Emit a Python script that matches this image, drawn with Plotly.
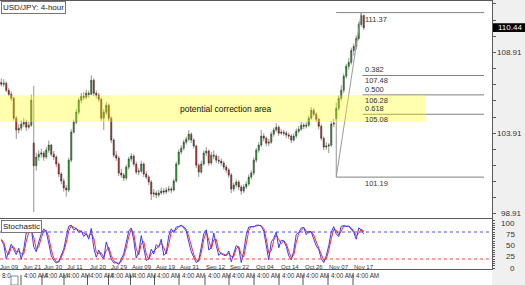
import plotly.graph_objects as go

# ---------------- data ----------------
opens = [
107.05, 106.93, 107.00, 106.56, 106.32, 106.07, 104.84, 104.10, 104.22, 104.47,
104.59, 104.28, 104.40, 103.30, 101.90, 102.43, 102.61, 102.68, 102.43, 102.86,
103.17, 102.61, 102.43, 102.00, 101.38, 100.95, 100.52, 100.39, 102.24, 103.97,
104.59, 105.21, 105.95, 106.19, 106.13, 106.38, 106.32, 107.18, 106.38, 106.26,
106.01, 104.84, 105.21, 105.64, 104.84, 103.48, 102.55, 102.37, 101.44, 101.32,
101.13, 101.81, 102.31, 102.49, 102.00, 101.50, 101.56, 102.00, 101.38, 101.19,
100.89, 100.14, 100.21, 100.08, 100.21, 100.33, 100.27, 100.39, 100.45, 100.39,
100.95, 102.00, 102.74, 102.98, 103.35, 103.54, 103.85, 103.48, 103.11, 101.93,
101.50, 102.00, 102.68, 102.80, 102.06, 102.55, 102.49, 102.24, 102.18, 102.06,
101.81, 101.63, 101.32, 100.45, 100.70, 100.89, 100.58, 100.33, 100.58, 100.76,
101.19, 101.44, 102.24, 102.86, 103.17, 103.73, 103.60, 103.29, 103.35, 103.85,
104.10, 104.28, 103.91, 103.97, 103.91, 103.79, 103.73, 103.48, 103.73, 104.03,
104.16, 104.40, 104.34, 104.40, 104.84, 105.33, 105.08, 104.77, 104.34, 103.60,
103.05, 103.11, 103.17, 104.47, 104.80, 105.45, 106.07, 106.56, 107.43, 108.05,
108.29, 109.03, 109.28, 109.77, 110.64, 111.19]

highs = [
107.30, 107.25, 107.12, 106.70, 106.50, 106.15, 104.98, 104.45, 104.70, 104.85,
104.75, 104.62, 106.30, 106.84, 102.70, 102.85, 102.95, 102.80, 103.05, 103.45,
103.25, 102.80, 102.55, 102.10, 101.50, 101.10, 100.70, 102.40, 104.15, 104.75,
105.40, 106.10, 106.40, 106.45, 106.60, 106.55, 107.49, 107.30, 106.55, 106.40,
106.10, 105.40, 105.85, 105.75, 104.95, 103.60, 102.80, 102.50, 101.70, 101.45,
101.95, 102.45, 102.68, 102.60, 102.15, 101.75, 102.20, 102.10, 101.55, 101.30,
101.00, 100.45, 100.35, 100.40, 100.55, 100.50, 100.55, 100.65, 100.60, 101.10,
102.15, 102.90, 103.15, 103.50, 103.70, 104.10, 103.95, 103.60, 103.20, 102.05,
102.20, 102.85, 103.05, 102.90, 102.75, 102.85, 102.60, 102.50, 102.35, 102.20,
101.95, 101.75, 101.45, 100.85, 101.05, 101.00, 100.70, 100.75, 100.95, 101.35,
101.60, 102.40, 103.00, 103.35, 104.10, 103.90, 103.70, 103.55, 104.00, 104.25,
104.53, 104.40, 104.15, 104.10, 104.05, 103.95, 103.85, 103.90, 104.20, 104.35,
104.60, 104.55, 104.60, 105.00, 105.53, 105.45, 105.20, 104.85, 104.45, 103.70,
103.35, 103.30, 104.65, 104.80, 105.80, 106.25, 106.87, 107.60, 108.20, 108.55,
109.20, 109.45, 109.95, 110.80, 111.37, 111.25]

lows = [
106.80, 106.78, 106.45, 106.20, 105.90, 104.70, 103.55, 103.90, 104.05, 104.30,
104.05, 104.15, 104.30, 99.02, 101.60, 102.20, 102.40, 102.20, 102.30, 102.70,
102.45, 102.25, 101.80, 101.20, 100.75, 100.30, 99.98, 100.25, 102.10, 103.90,
104.45, 105.05, 105.75, 105.95, 106.00, 106.10, 106.25, 106.20, 106.05, 105.85,
104.65, 104.10, 105.05, 104.65, 103.30, 102.40, 102.20, 101.25, 101.15, 100.95,
101.00, 101.65, 102.15, 101.85, 101.35, 101.30, 101.45, 101.20, 101.05, 100.70,
99.77, 99.95, 99.90, 99.95, 100.10, 100.10, 100.15, 100.25, 100.20, 100.30,
100.85, 101.90, 102.60, 102.85, 103.20, 103.40, 103.30, 102.95, 101.75, 101.20,
101.40, 101.90, 102.50, 101.90, 101.95, 102.30, 102.05, 102.00, 101.90, 101.65,
101.45, 101.15, 100.20, 100.30, 100.55, 100.40, 100.10, 100.20, 100.45, 100.65,
101.05, 101.30, 102.10, 102.70, 103.05, 103.40, 103.10, 103.10, 103.25, 103.70,
104.00, 103.75, 103.80, 103.75, 103.60, 103.55, 103.29, 103.40, 103.60, 103.90,
104.05, 104.15, 104.20, 104.30, 104.75, 104.95, 104.60, 104.15, 103.45, 102.85,
102.90, 102.68, 103.05, 104.30, 101.19, 105.30, 105.90, 106.40, 107.30, 107.85,
108.15, 108.70, 109.10, 109.65, 110.50, 110.30]

closes = [
106.93, 107.00, 106.56, 106.32, 106.07, 104.84, 104.10, 104.22, 104.47, 104.59,
104.28, 104.40, 105.95, 101.90, 102.43, 102.61, 102.68, 102.43, 102.86, 103.17,
102.61, 102.43, 102.00, 101.38, 100.95, 100.52, 100.39, 102.24, 103.97, 104.59,
105.21, 105.95, 106.19, 106.13, 106.38, 106.32, 107.18, 106.38, 106.26, 106.01,
104.84, 105.21, 105.64, 104.84, 103.48, 102.55, 102.37, 101.44, 101.32, 101.13,
101.81, 102.31, 102.49, 102.00, 101.50, 101.56, 102.00, 101.38, 101.19, 100.89,
100.14, 100.21, 100.08, 100.21, 100.33, 100.27, 100.39, 100.45, 100.39, 100.95,
102.00, 102.74, 102.98, 103.35, 103.54, 103.85, 103.48, 103.11, 101.93, 101.50,
102.00, 102.68, 102.80, 102.06, 102.55, 102.49, 102.24, 102.18, 102.06, 101.81,
101.63, 101.32, 100.45, 100.70, 100.89, 100.58, 100.33, 100.58, 100.76, 101.19,
101.44, 102.24, 102.86, 103.17, 103.73, 103.60, 103.29, 103.35, 103.85, 104.10,
104.28, 103.91, 103.97, 103.91, 103.79, 103.73, 103.48, 103.73, 104.03, 104.16,
104.40, 104.34, 104.40, 104.84, 105.33, 105.08, 104.77, 104.34, 103.60, 103.05,
103.11, 103.17, 104.47, 104.53, 105.45, 106.07, 106.56, 107.43, 108.05, 108.29,
109.03, 109.28, 109.77, 110.64, 111.19, 110.44]

stoch_k = [
62, 52, 20, 38, 53, 41, 30, 44, 19, 42,
78, 79, 88, 47, 36, 58, 76, 87, 80, 55,
27, 17, 11, 15, 31, 42, 70, 93, 95, 85,
88, 79, 83, 70, 77, 64, 88, 45, 24, 40,
27, 20, 58, 36, 20, 11, 12, 8, 20, 32,
57, 82, 89, 62, 22, 35, 72, 45, 17, 20,
42, 31, 52, 46, 64, 28, 34, 72, 87, 79,
91, 92, 95, 89, 82, 58, 36, 24, 12, 17,
50, 76, 85, 40, 45, 78, 50, 28, 34, 28,
28, 38, 14, 35, 50, 45, 12, 37, 74, 91,
92, 91, 95, 95, 93, 82, 48, 18, 58, 66,
80, 45, 62, 60, 48, 27, 18, 38, 75, 79,
89, 90, 74, 82, 80, 66, 49, 41, 21, 12,
27, 50, 80, 92, 75, 70, 93, 94, 92, 93,
85, 79, 64, 89, 84, 76]

stoch_d = [
64, 57, 36, 29, 46, 47, 36, 37, 32, 31,
60, 79, 84, 68, 42, 47, 67, 82, 84, 68,
41, 22, 14, 13, 23, 37, 56, 82, 94, 90,
87, 84, 81, 77, 74, 71, 76, 67, 35, 32,
34, 24, 39, 47, 28, 16, 12, 10, 14, 26,
45, 70, 86, 76, 42, 29, 54, 59, 31, 19,
31, 37, 42, 49, 55, 46, 31, 53, 80, 83,
85, 92, 94, 92, 86, 70, 47, 30, 18, 15,
34, 63, 81, 63, 43, 62, 64, 39, 31, 31,
28, 33, 26, 25, 43, 48, 29, 25, 56, 83,
92, 92, 93, 95, 94, 88, 65, 33, 38, 62,
73, 63, 54, 61, 54, 38, 23, 28, 57, 77,
84, 90, 82, 78, 81, 73, 58, 45, 31, 17,
20, 39, 65, 86, 84, 73, 82, 94, 93, 93,
89, 82, 72, 77, 87, 80]

date_labels = ["Jun 09", "Jun 21", "Jun 30", "Jul 11", "Jul 20", "Jul 29", "Aug 09", "Aug 19",
               "Aug 31", "Sep 12", "Sep 22", "Oct 04", "Oct 14", "Oct 26", "Nov 07", "Nov 17"]
date_bars = [3.1, 12.3, 20.7, 29.5, 38.9, 47.3, 56.1, 65.7, 75.5, 85.9, 95.5, 105.5, 115.5,
             125.1, 135.1, 145.1]
time_label = "4:00 AM"

price_ticks = [108.91, 103.91, 98.91]
stoch_ticks = [100, 75, 50, 25, 0]
last_price = closes[-1]

fib_high = 111.37
fib_low = 101.19
fib_ratios = [0.382, 0.5, 0.618]
zone_low, zone_high = 104.60, 106.25
zone_text = "potential correction area"
stoch_over, stoch_under = 80, 20

# ---------------- geometry ----------------
W, H = 525, 285
PXB = 2.5          # pixels per bar


def bx(px):        # pixel x -> bar coordinate
    return (px - 1.25) / PXB


def py(px):        # pixel y (from top) -> paper y
    return (H - px) / H


bars = list(range(len(closes)))
XR = [-0.5, bx(492)]
XDOM = [0, 492 / W]
FONT = "Liberation Sans, Arial, sans-serif"
AX = "#5a5a5a"

fig = go.Figure()
fig.add_trace(go.Candlestick(
    x=bars, open=opens, high=highs, low=lows, close=closes,
    xaxis="x", yaxis="y", whiskerwidth=0, hoverinfo="skip",
    increasing=dict(fillcolor="#13b013", line=dict(color="#262626", width=0.5)),
    decreasing=dict(fillcolor="#e01818", line=dict(color="#262626", width=0.5)),
))
fig.add_trace(go.Scatter(x=bars, y=stoch_d, mode="lines", xaxis="x2", yaxis="y2",
                         line=dict(color="#ff2a2a", width=1), hoverinfo="skip"))
fig.add_trace(go.Scatter(x=bars, y=stoch_k, mode="lines", xaxis="x2", yaxis="y2",
                         line=dict(color="#3a3aff", width=1), hoverinfo="skip"))

lo_bar = lows.index(fib_low)
hi_bar = highs.index(fib_high)
fib_end = bx(484)
shapes = []
# right gray panel
shapes.append(dict(type="rect", xref="paper", yref="paper", x0=492 / W, x1=1, y0=0, y1=1,
                   fillcolor="#f0f0f0", line=dict(width=0), layer="below"))
# fib 0 / 100 lines
for lvl in (fib_high, fib_low):
    shapes.append(dict(type="line", xref="x", yref="y", x0=lo_bar, x1=fib_end, y0=lvl, y1=lvl,
                       line=dict(color="#808080", width=1)))
fib_levels = []
for r in fib_ratios:
    lvl = round(fib_high - r * (fib_high - fib_low), 2)
    fib_levels.append(lvl)
    shapes.append(dict(type="line", xref="x", yref="y", x0=hi_bar + 0.5, x1=fib_end, y0=lvl, y1=lvl,
                       line=dict(color="#808080", width=1)))
# trend line
shapes.append(dict(type="line", xref="x", yref="y", x0=lo_bar, x1=hi_bar, y0=fib_low, y1=fib_high,
                   line=dict(color="#9a9a9a", width=1)))
# yellow zone (above candles, translucent)
shapes.append(dict(type="rect", xref="x", yref="y", x0=-0.5, x1=bx(426), y0=zone_low, y1=zone_high,
                   fillcolor="rgba(255,255,0,0.32)", line=dict(width=0), layer="above"))
# stochastic levels
shapes.append(dict(type="line", xref="paper", yref="y2", x0=0, x1=492 / W, y0=stoch_over, y1=stoch_over,
                   line=dict(color="#4a4aff", width=1, dash="dot")))
shapes.append(dict(type="line", xref="paper", yref="y2", x0=0, x1=492 / W, y0=stoch_under, y1=stoch_under,
                   line=dict(color="#ff4040", width=1, dash="dot")))
# current price box
shapes.append(dict(type="rect", xref="paper", yref="y", x0=493 / W, x1=1, y0=last_price - 0.27,
                   y1=last_price + 0.27, fillcolor="black", line=dict(width=0)))
# time row separators and first box
for b in date_bars[1:]:
    shapes.append(dict(type="line", xref="x2", yref="paper", x0=b - 4.4, x1=b - 4.4, y0=py(285), y1=py(275),
                       line=dict(color="#555", width=1)))
shapes.append(dict(type="rect", xref="paper", yref="paper", x0=11 / W, x1=18 / W, y0=py(285), y1=py(276),
                   fillcolor="white", line=dict(color="#888", width=1)))

ann = []
ann.append(dict(text="USD/JPY: 4-hour", xref="paper", yref="paper", x=1 / W, y=py(1), xanchor="left",
                yanchor="top", showarrow=False, font=dict(family=FONT, size=8, color="#222"),
                bgcolor="white", bordercolor="#777", borderwidth=1, borderpad=1))
ann.append(dict(text="Stochastic", xref="paper", yref="paper", x=1 / W, y=py(220), xanchor="left",
                yanchor="top", showarrow=False, font=dict(family=FONT, size=8, color="#222"),
                bgcolor="white", bordercolor="#777", borderwidth=1, borderpad=1))
ann.append(dict(text=zone_text, xref="x", yref="y", x=bx(225), y=(zone_low + zone_high) / 2,
                showarrow=False, font=dict(family=FONT, size=8.5, color="#111")))
LF = dict(family=FONT, size=7.5, color="#333")
ann.append(dict(text=f"{fib_high:.2f}", xref="x", yref="y", x=hi_bar + 0.6, y=fib_high, xanchor="left",
                yanchor="top", showarrow=False, font=LF))
ann.append(dict(text=f"{fib_low:.2f}", xref="x", yref="y", x=hi_bar + 0.6, y=fib_low, xanchor="left",
                yanchor="top", showarrow=False, font=LF))
for r, lvl in zip(fib_ratios, fib_levels):
    ann.append(dict(text=f"{r:.3f}", xref="x", yref="y", x=hi_bar + 0.6, y=lvl, xanchor="left",
                    yanchor="bottom", showarrow=False, font=LF, yshift=-1))
    ann.append(dict(text=f"{lvl:.2f}", xref="x", yref="y", x=hi_bar + 0.6, y=lvl, xanchor="left",
                    yanchor="top", showarrow=False, font=LF, yshift=1))
for t in price_ticks:
    ann.append(dict(text=f"{t:.2f}", xref="paper", yref="y", x=524 / W, y=t, xanchor="right",
                    showarrow=False, font=dict(family=FONT, size=8, color="#333")))
ann.append(dict(text=f"{last_price:.2f}", xref="paper", yref="y", x=524 / W, y=last_price, xanchor="right",
                showarrow=False, font=dict(family=FONT, size=8, color="white")))
for t in stoch_ticks:
    ann.append(dict(text=str(t), xref="paper", yref="y2", x=517 / W, y=t, xanchor="right",
                    showarrow=False, font=dict(family=FONT, size=8, color="#333")))
for lab, b in zip(date_labels, date_bars):
    ann.append(dict(text=lab, xref="x2", yref="paper", x=b, y=py(271.5), showarrow=False,
                    font=dict(family=FONT, size=6, color="#333")))
for b in date_bars[1:]:
    ann.append(dict(text=time_label, xref="x2", yref="paper", x=b - 4.2, y=py(280.5), xanchor="left",
                    showarrow=False, font=dict(family=FONT, size=6.3, color="#333")))
ann.append(dict(text="8:0", xref="paper", yref="paper", x=0, y=py(280.5), xanchor="left",
                showarrow=False, font=dict(family=FONT, size=6.3, color="#333")))

common_x = dict(domain=XDOM, range=XR, showticklabels=False, showgrid=False, zeroline=False,
                showline=True, mirror=True, linecolor=AX, linewidth=1, fixedrange=True)
fig.update_layout(
    width=W, height=H, margin=dict(l=0, r=0, t=0, b=0),
    paper_bgcolor="white", plot_bgcolor="white", showlegend=False,
    xaxis=dict(**common_x, anchor="y", rangeslider=dict(visible=False)),
    xaxis2=dict(**common_x, anchor="y2"),
    yaxis=dict(domain=[py(218), py(0.5)], range=[98.66, 112.12], side="right", anchor="x",
               ticks="outside", tick0=98.91, dtick=1, ticklen=3, tickcolor=AX,
               showticklabels=False, showgrid=False, zeroline=False,
               showline=True, mirror=True, linecolor=AX, linewidth=1),
    yaxis2=dict(domain=[py(269), py(219)], range=[-2.2, 108.9], side="right", anchor="x2",
                ticks="outside", tick0=0, dtick=5, ticklen=2, tickcolor=AX,
                showticklabels=False, showgrid=False, zeroline=False,
                showline=True, mirror=True, linecolor=AX, linewidth=1),
    shapes=shapes, annotations=ann,
)
fig.write_html("out.html")
